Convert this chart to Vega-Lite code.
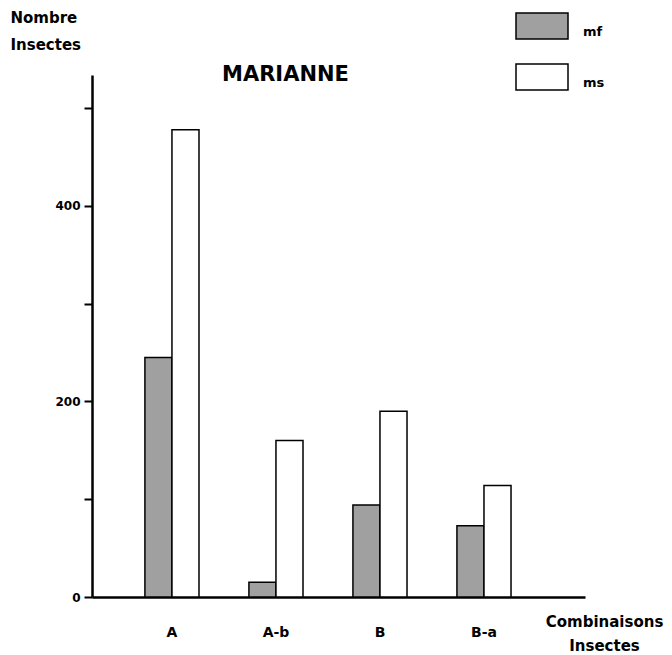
{
  "$schema": "https://vega.github.io/schema/vega-lite/v6.json",
  "width": 493,
  "height": 522,
  "autosize": {"type": "none"},
  "padding": {"left": 92, "top": 75, "right": 87, "bottom": 58},
  "background": "white",
  "title": {"text": "MARIANNE", "anchor": "start", "dx": 212, "dy": 78, "offset": -8, "font": "DejaVu Sans", "fontSize": 21, "fontWeight": "bold", "color": "black"},
  "data": {"values": [
    {"combinaison": "A", "serie": "mf", "nombre": 245},
    {"combinaison": "A", "serie": "ms", "nombre": 478},
    {"combinaison": "A-b", "serie": "mf", "nombre": 15},
    {"combinaison": "A-b", "serie": "ms", "nombre": 160},
    {"combinaison": "B", "serie": "mf", "nombre": 94},
    {"combinaison": "B", "serie": "ms", "nombre": 190},
    {"combinaison": "B-a", "serie": "mf", "nombre": 73},
    {"combinaison": "B-a", "serie": "ms", "nombre": 114}
  ]},
  "mark": {"type": "bar", "stroke": "black", "strokeWidth": 1.5},
  "encoding": {
    "x": {
      "field": "combinaison", "type": "nominal", "sort": ["A", "A-b", "B", "B-a"],
      "scale": {"paddingInner": 0.48, "paddingOuter": 0.61, "align": 0.417},
      "axis": {
        "title": ["Combinaisons", "Insectes"], "titleX": 512, "titleY": 17, "titleAlign": "center", "titleBaseline": "top",
        "titleLineHeight": 24, "titleFont": "DejaVu Sans", "titleFontSize": 15, "titleFontWeight": "bold", "titleColor": "black",
        "labelAngle": 0, "labelPadding": 28, "ticks": false, "domainColor": "black", "domainWidth": 2.5,
        "labelFont": "DejaVu Sans", "labelFontSize": 14, "labelFontWeight": "bold", "labelColor": "black"
      }
    },
    "xOffset": {"field": "serie", "sort": ["mf", "ms"], "scale": {"paddingInner": 0, "paddingOuter": 0}},
    "y": {
      "field": "nombre", "type": "quantitative",
      "scale": {"domain": [0, 534], "nice": false},
      "axis": {
        "values": [0, 100, 200, 300, 400, 500],
        "labelExpr": "datum.value % 200 == 0 ? datum.label : ''",
        "tickSize": 8, "tickWidth": 2, "tickColor": "black", "domainColor": "black", "domainWidth": 2.5,
        "labelFont": "DejaVu Sans", "labelFontSize": 12, "labelFontWeight": "bold", "labelColor": "black", "labelPadding": 4,
        "title": ["Nombre", "Insectes"], "titleAngle": 0, "titleAlign": "left", "titleBaseline": "top",
        "titleX": -82, "titleY": -65, "titleFont": "DejaVu Sans", "titleFontSize": 15, "titleFontWeight": "bold",
        "titleLineHeight": 27, "titleColor": "black", "grid": false
      }
    },
    "fill": {
      "field": "serie", "type": "nominal",
      "scale": {"domain": ["mf", "ms"], "range": ["#a0a0a0", "#ffffff"]},
      "legend": {
        "title": null, "orient": "none", "legendX": 423, "legendY": -76, "padding": 0,
        "symbolType": "M-1,-0.5H1V0.5H-1Z", "symbolSize": 2704, "symbolStrokeColor": "black", "symbolStrokeWidth": 1.5,
        "labelFont": "DejaVu Sans", "labelFontSize": 13, "labelFontWeight": "bold", "labelOffset": 14, "labelBaseline": "top",
        "rowPadding": 8, "labelColor": "black"
      }
    }
  },
  "config": {"view": {"stroke": null}, "axis": {"grid": false}}
}
